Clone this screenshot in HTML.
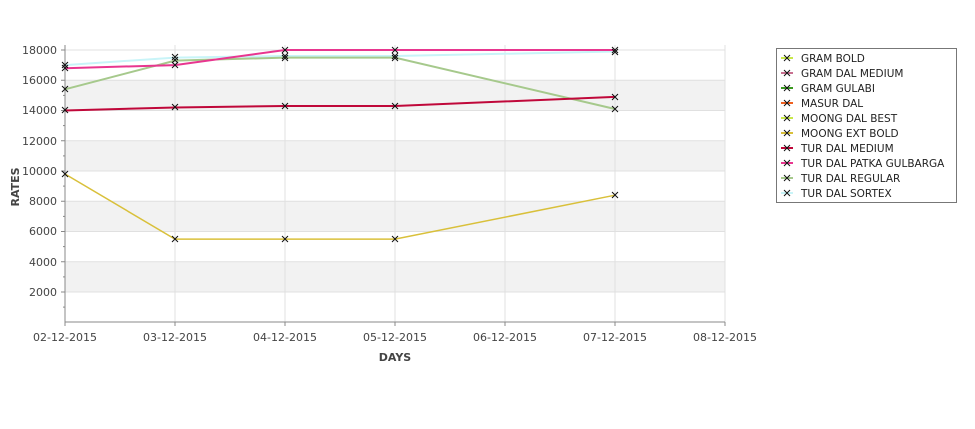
<!DOCTYPE html>
<html><head><style>body{margin:0;background:#fff}svg{display:block;font-family:"DejaVu Sans","Liberation Sans",sans-serif}</style></head><body>
<svg width="975" height="429" xmlns="http://www.w3.org/2000/svg">
<rect width="975" height="429" fill="#fff"/>
<g fill="#f2f2f2">
<rect x="65" y="80.25" width="660" height="30.25"/>
<rect x="65" y="140.75" width="660" height="30.25"/>
<rect x="65" y="201.25" width="660" height="30.25"/>
<rect x="65" y="261.75" width="660" height="30.25"/>
</g>
<g stroke="#e0e0e0" stroke-width="1">
<line x1="65" x2="725" y1="50" y2="50"/><line x1="65" x2="725" y1="80.25" y2="80.25"/><line x1="65" x2="725" y1="110.5" y2="110.5"/><line x1="65" x2="725" y1="140.75" y2="140.75"/><line x1="65" x2="725" y1="171" y2="171"/><line x1="65" x2="725" y1="201.25" y2="201.25"/><line x1="65" x2="725" y1="231.5" y2="231.5"/><line x1="65" x2="725" y1="261.75" y2="261.75"/><line x1="65" x2="725" y1="292" y2="292"/>
<line x1="175" x2="175" y1="45" y2="322"/><line x1="285" x2="285" y1="45" y2="322"/><line x1="395" x2="395" y1="45" y2="322"/><line x1="505" x2="505" y1="45" y2="322"/><line x1="615" x2="615" y1="45" y2="322"/><line x1="725" x2="725" y1="45" y2="322"/>
</g>
<g stroke="#888" stroke-width="1">
<line x1="65" x2="65" y1="45" y2="322"/><line x1="65" x2="725" y1="322" y2="322"/>
<g id="t"><line x1="61" x2="65" y1="50" y2="50"/><line x1="61" x2="65" y1="80.25" y2="80.25"/><line x1="61" x2="65" y1="110.5" y2="110.5"/><line x1="61" x2="65" y1="140.75" y2="140.75"/><line x1="61" x2="65" y1="171" y2="171"/><line x1="61" x2="65" y1="201.25" y2="201.25"/><line x1="61" x2="65" y1="231.5" y2="231.5"/><line x1="61" x2="65" y1="261.75" y2="261.75"/><line x1="61" x2="65" y1="292" y2="292"/>
<line x1="63" x2="65" y1="65.1" y2="65.1"/><line x1="63" x2="65" y1="95.4" y2="95.4"/><line x1="63" x2="65" y1="125.6" y2="125.6"/><line x1="63" x2="65" y1="155.9" y2="155.9"/><line x1="63" x2="65" y1="186.1" y2="186.1"/><line x1="63" x2="65" y1="216.4" y2="216.4"/><line x1="63" x2="65" y1="246.6" y2="246.6"/><line x1="63" x2="65" y1="276.9" y2="276.9"/><line x1="63" x2="65" y1="307.1" y2="307.1"/></g>
<line x1="175" x2="175" y1="322" y2="326"/><line x1="285" x2="285" y1="322" y2="326"/><line x1="395" x2="395" y1="322" y2="326"/><line x1="505" x2="505" y1="322" y2="326"/><line x1="615" x2="615" y1="322" y2="326"/><line x1="725" x2="725" y1="322" y2="326"/><line x1="65" x2="65" y1="322" y2="326"/>
</g>
<g font-size="11" fill="#444" text-anchor="end">
<text x="57" y="54">18000</text><text x="57" y="84">16000</text><text x="57" y="114">14000</text><text x="57" y="145">12000</text><text x="57" y="175">10000</text><text x="57" y="205">8000</text><text x="57" y="235">6000</text><text x="57" y="266">4000</text><text x="57" y="296">2000</text>
</g>
<g font-size="11" fill="#444" text-anchor="middle">
<text x="65" y="341">02-12-2015</text><text x="175" y="341">03-12-2015</text><text x="285" y="341">04-12-2015</text><text x="395" y="341">05-12-2015</text><text x="505" y="341">06-12-2015</text><text x="615" y="341">07-12-2015</text><text x="725" y="341">08-12-2015</text>
</g>
<text x="395" y="361" font-size="11" font-weight="bold" fill="#444" text-anchor="middle">DAYS</text>
<text transform="translate(19,187) rotate(-90)" font-size="11" font-weight="bold" fill="#444" text-anchor="middle">RATES</text>
<g fill="none" stroke-width="2">
<polyline stroke="#c8f4f8" points="65,65.1 175,57.6 285,56 395,56 615,51.5"/>
<polyline stroke="#a6c98c" points="65,89.3 175,60.6 285,57.6 395,57.6 615,109"/>
<polyline stroke="#e8368f" points="65,68.2 175,65.1 285,50 395,50 615,50"/>
<polyline stroke="#c0083a" points="65,110.5 175,107.5 285,106 395,106 615,96.9"/>
<polyline stroke="#d9c03a" stroke-width="1.5" points="65,174 175,239.1 285,239.1 395,239.1 615,195.2"/>
</g>
<g stroke="#111" stroke-width="1">
<path d="M62,62l6,6M68,62l-6,6 M62,65l6,6M68,65l-6,6 M62,86l6,6M68,86l-6,6 M62,107l6,6M68,107l-6,6 M62,171l6,6M68,171l-6,6
M172,54l6,6M178,54l-6,6 M172,57l6,6M178,57l-6,6 M172,62l6,6M178,62l-6,6 M172,104l6,6M178,104l-6,6 M172,236l6,6M178,236l-6,6
M282,47l6,6M288,47l-6,6 M282,53l6,6M288,53l-6,6 M282,55l6,6M288,55l-6,6 M282,103l6,6M288,103l-6,6 M282,236l6,6M288,236l-6,6
M392,47l6,6M398,47l-6,6 M392,53l6,6M398,53l-6,6 M392,55l6,6M398,55l-6,6 M392,103l6,6M398,103l-6,6 M392,236l6,6M398,236l-6,6
M612,47l6,6M618,47l-6,6 M612,49l6,6M618,49l-6,6 M612,94l6,6M618,94l-6,6 M612,106l6,6M618,106l-6,6 M612,192l6,6M618,192l-6,6"/>
</g>
<rect x="776.5" y="48.5" width="180" height="154" fill="#fff" stroke="#777"/>
<g font-size="10.5" fill="#222">
<text x="801" y="62">GRAM BOLD</text><text x="801" y="77">GRAM DAL MEDIUM</text><text x="801" y="92">GRAM GULABI</text><text x="801" y="107">MASUR DAL</text><text x="801" y="122">MOONG DAL BEST</text><text x="801" y="137">MOONG EXT BOLD</text><text x="801" y="152">TUR DAL MEDIUM</text><text x="801" y="167">TUR DAL PATKA GULBARGA</text><text x="801" y="182">TUR DAL REGULAR</text><text x="801" y="197">TUR DAL SORTEX</text>
</g>
<g stroke-width="2">
<line x1="781" x2="793" y1="58" y2="58" stroke="#c8e84a"/><line x1="781" x2="793" y1="73" y2="73" stroke="#c87090"/><line x1="781" x2="793" y1="88" y2="88" stroke="#3a9a20"/><line x1="781" x2="793" y1="103" y2="103" stroke="#f06020"/><line x1="781" x2="793" y1="118" y2="118" stroke="#c8e84a"/><line x1="781" x2="793" y1="133" y2="133" stroke="#d9c03a"/><line x1="781" x2="793" y1="148" y2="148" stroke="#c0083a"/><line x1="781" x2="793" y1="163" y2="163" stroke="#e8368f"/><line x1="781" x2="793" y1="178" y2="178" stroke="#a6c98c"/><line x1="781" x2="793" y1="193" y2="193" stroke="#c8f4f8"/>
</g>
<path stroke="#111" stroke-width="1" d="M784,55l6,6M790,55l-6,6M784,70l6,6M790,70l-6,6M784,85l6,6M790,85l-6,6M784,100l6,6M790,100l-6,6M784,115l6,6M790,115l-6,6M784,130l6,6M790,130l-6,6M784,145l6,6M790,145l-6,6M784,160l6,6M790,160l-6,6M784,175l6,6M790,175l-6,6M784,190l6,6M790,190l-6,6"/>
</svg>
</body></html>
